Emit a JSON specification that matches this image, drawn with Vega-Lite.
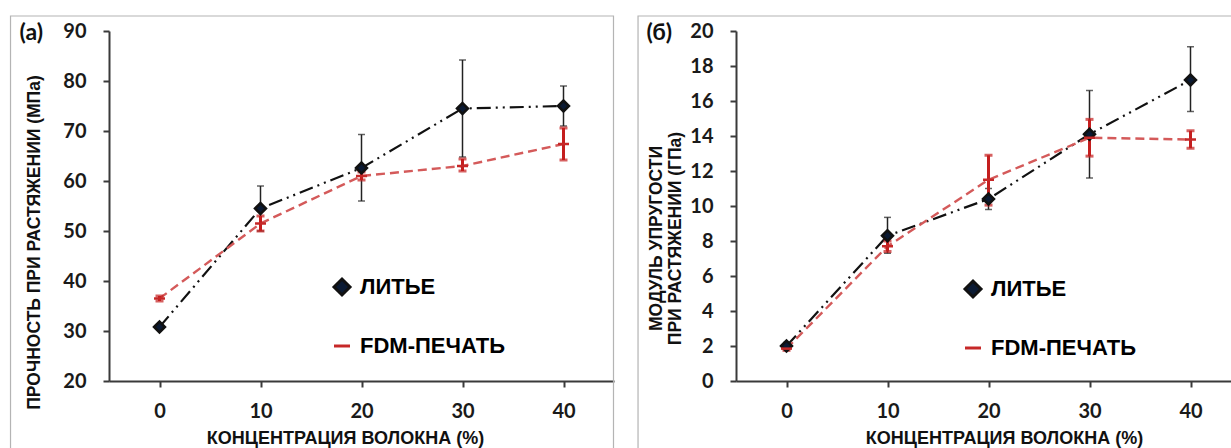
{
  "$schema": "https://vega.github.io/schema/vega-lite/v6.json",
  "padding": {"left": 9, "top": 15, "right": 0, "bottom": 0},
  "background": "white",
  "datasets": {
    "strength": [
      {"series": "ЛИТЬЕ", "conc": 0, "value": 30.8, "lo": 30.4, "hi": 31.2},
      {"series": "ЛИТЬЕ", "conc": 10, "value": 54.5, "lo": 50.0, "hi": 59.0},
      {"series": "ЛИТЬЕ", "conc": 20, "value": 62.6, "lo": 56.0, "hi": 69.3},
      {"series": "ЛИТЬЕ", "conc": 30, "value": 74.5, "lo": 64.8, "hi": 84.2},
      {"series": "ЛИТЬЕ", "conc": 40, "value": 75.0, "lo": 71.0, "hi": 79.0},
      {"series": "FDM-ПЕЧАТЬ", "conc": 0, "value": 36.5, "lo": 36.0, "hi": 37.0},
      {"series": "FDM-ПЕЧАТЬ", "conc": 10, "value": 51.5, "lo": 50.0, "hi": 53.0},
      {"series": "FDM-ПЕЧАТЬ", "conc": 20, "value": 61.0, "lo": 60.2, "hi": 61.8},
      {"series": "FDM-ПЕЧАТЬ", "conc": 30, "value": 63.0, "lo": 62.0, "hi": 64.4},
      {"series": "FDM-ПЕЧАТЬ", "conc": 40, "value": 67.4, "lo": 64.2, "hi": 70.6}
    ],
    "modulus": [
      {"series": "ЛИТЬЕ", "conc": 0, "value": 2.0, "lo": 1.8, "hi": 2.2},
      {"series": "ЛИТЬЕ", "conc": 10, "value": 8.3, "lo": 7.3, "hi": 9.35},
      {"series": "ЛИТЬЕ", "conc": 20, "value": 10.4, "lo": 9.8, "hi": 11.0},
      {"series": "ЛИТЬЕ", "conc": 30, "value": 14.1, "lo": 11.6, "hi": 16.6},
      {"series": "ЛИТЬЕ", "conc": 40, "value": 17.2, "lo": 15.4, "hi": 19.1},
      {"series": "FDM-ПЕЧАТЬ", "conc": 0, "value": 1.85, "lo": 1.75, "hi": 1.95},
      {"series": "FDM-ПЕЧАТЬ", "conc": 10, "value": 7.7, "lo": 7.4, "hi": 8.0},
      {"series": "FDM-ПЕЧАТЬ", "conc": 20, "value": 11.5, "lo": 10.05, "hi": 12.9},
      {"series": "FDM-ПЕЧАТЬ", "conc": 30, "value": 13.9, "lo": 12.85, "hi": 14.95},
      {"series": "FDM-ПЕЧАТЬ", "conc": 40, "value": 13.8, "lo": 13.3, "hi": 14.3}
    ]
  },
  "bounds": "flush",
  "spacing": 122,
  "resolve": {"scale": {"color": "independent", "shape": "independent"}},
  "hconcat": [
    {
      "width": 505,
      "height": 350,
      "data": {"name": "strength"},
      "layer": [
        {
          "data": {"values": [{"frame": "a"}]},
          "mark": {"type": "rect", "filled": false, "stroke": "#b4b4b4", "strokeWidth": 1.2},
          "encoding": {
            "x": {"datum": -14.75, "type": "quantitative",
                  "axis": {"values": [0, 10, 20, 30, 40], "labelOverlap": false, "title": "КОНЦЕНТРАЦИЯ ВОЛОКНА (%)", "titleX": 236, "titleY": 57}},
            "x2": {"datum": 44.95},
            "y": {"datum": 93, "type": "quantitative",
                  "axis": {"values": [20, 30, 40, 50, 60, 70, 80, 90], "labelOverlap": false, "title": "ПРОЧНОСТЬ ПРИ РАСТЯЖЕНИИ (МПа)", "titleX": -74.5, "titleY": 211}},
            "y2": {"datum": 3}
          }
        },
        {
          "data": {"values": [{"label": "(a)"}]},
          "mark": {"type": "text", "font": "Lato", "fontWeight": "bold", "fontSize": 23, "align": "center", "baseline": "middle", "color": "#111"},
          "encoding": {
            "x": {"datum": -12.7, "type": "quantitative",
                  "axis": {"values": [0, 10, 20, 30, 40], "labelOverlap": false, "title": "КОНЦЕНТРАЦИЯ ВОЛОКНА (%)", "titleX": 236, "titleY": 57}},
            "y": {"datum": 89.6, "type": "quantitative",
                  "axis": {"values": [20, 30, 40, 50, 60, 70, 80, 90], "labelOverlap": false, "title": "ПРОЧНОСТЬ ПРИ РАСТЯЖЕНИИ (МПа)", "titleX": -74.5, "titleY": 211}},
            "text": {"field": "label"}
          }
        },
        {
          "transform": [{"filter": "datum.series === 'ЛИТЬЕ'"}],
          "mark": {"type": "line", "color": "#111111", "strokeWidth": 2.2, "strokeDash": [14, 5, 2, 5, 2, 5]},
          "encoding": {
            "x": {"field": "conc", "type": "quantitative", "scale": {"domain": [-5, 45], "nice": false, "zero": false},
                  "axis": {"values": [0, 10, 20, 30, 40], "labelOverlap": false, "title": "КОНЦЕНТРАЦИЯ ВОЛОКНА (%)", "titleX": 236, "titleY": 57}},
            "y": {"field": "value", "type": "quantitative", "scale": {"domain": [20, 90], "nice": false, "zero": false},
                  "axis": {"values": [20, 30, 40, 50, 60, 70, 80, 90], "labelOverlap": false, "title": "ПРОЧНОСТЬ ПРИ РАСТЯЖЕНИИ (МПа)", "titleX": -74.5, "titleY": 211}}
          }
        },
        {
          "transform": [{"filter": "datum.series === 'FDM-ПЕЧАТЬ'"}],
          "mark": {"type": "line", "color": "#d45a5a", "strokeWidth": 2.4, "strokeDash": [9, 5]},
          "encoding": {
            "x": {"field": "conc", "type": "quantitative", "scale": {"domain": [-5, 45], "nice": false, "zero": false},
                  "axis": {"values": [0, 10, 20, 30, 40], "labelOverlap": false, "title": "КОНЦЕНТРАЦИЯ ВОЛОКНА (%)", "titleX": 236, "titleY": 57}},
            "y": {"field": "value", "type": "quantitative", "scale": {"domain": [20, 90], "nice": false, "zero": false},
                  "axis": {"values": [20, 30, 40, 50, 60, 70, 80, 90], "labelOverlap": false, "title": "ПРОЧНОСТЬ ПРИ РАСТЯЖЕНИИ (МПа)", "titleX": -74.5, "titleY": 211}}
          }
        },
        {
          "transform": [{"filter": "datum.series === 'ЛИТЬЕ'"}],
          "mark": {"type": "errorbar", "ticks": {"size": 7}, "thickness": 1.5, "color": "#222222"},
          "encoding": {
            "x": {"field": "conc", "type": "quantitative", "scale": {"domain": [-5, 45], "nice": false, "zero": false},
                  "axis": {"values": [0, 10, 20, 30, 40], "labelOverlap": false, "title": "КОНЦЕНТРАЦИЯ ВОЛОКНА (%)", "titleX": 236, "titleY": 57}},
            "y": {"field": "lo", "type": "quantitative", "scale": {"domain": [20, 90], "nice": false, "zero": false},
                  "axis": {"values": [20, 30, 40, 50, 60, 70, 80, 90], "labelOverlap": false, "title": "ПРОЧНОСТЬ ПРИ РАСТЯЖЕНИИ (МПа)", "titleX": -74.5, "titleY": 211}},
            "y2": {"field": "hi"}
          }
        },
        {
          "transform": [{"filter": "datum.series === 'FDM-ПЕЧАТЬ'"}],
          "mark": {"type": "errorbar", "ticks": {"size": 8}, "thickness": 3, "color": "#c41e1e"},
          "encoding": {
            "x": {"field": "conc", "type": "quantitative", "scale": {"domain": [-5, 45], "nice": false, "zero": false},
                  "axis": {"values": [0, 10, 20, 30, 40], "labelOverlap": false, "title": "КОНЦЕНТРАЦИЯ ВОЛОКНА (%)", "titleX": 236, "titleY": 57}},
            "y": {"field": "lo", "type": "quantitative", "scale": {"domain": [20, 90], "nice": false, "zero": false},
                  "axis": {"values": [20, 30, 40, 50, 60, 70, 80, 90], "labelOverlap": false, "title": "ПРОЧНОСТЬ ПРИ РАСТЯЖЕНИИ (МПа)", "titleX": -74.5, "titleY": 211}},
            "y2": {"field": "hi"}
          }
        },
        {
          "mark": {"type": "point", "filled": false, "fill": "#0b1a33", "strokeWidth": 2.5, "size": 120, "opacity": 1},
          "encoding": {
            "x": {"field": "conc", "type": "quantitative", "scale": {"domain": [-5, 45], "nice": false, "zero": false},
                  "axis": {"values": [0, 10, 20, 30, 40], "labelOverlap": false, "title": "КОНЦЕНТРАЦИЯ ВОЛОКНА (%)", "titleX": 236, "titleY": 57}},
            "y": {"field": "value", "type": "quantitative", "scale": {"domain": [20, 90], "nice": false, "zero": false},
                  "axis": {"values": [20, 30, 40, 50, 60, 70, 80, 90], "labelOverlap": false, "title": "ПРОЧНОСТЬ ПРИ РАСТЯЖЕНИИ (МПа)", "titleX": -74.5, "titleY": 211}},
            "color": {"field": "series", "type": "nominal",
                      "scale": {"domain": ["ЛИТЬЕ", "FDM-ПЕЧАТЬ"], "range": ["#111111", "#c62828"]},
                      "legend": {"title": null, "orient": "none", "direction": "vertical", "legendX": 222, "legendY": 245,
                                 "labelFont": "Liberation Sans", "labelFontWeight": "bold", "labelFontSize": 22, "labelColor": "#000000",
                                 "symbolSize": 256, "symbolStrokeWidth": 3, "symbolFillColor": "#0b1a33", "rowPadding": 34, "labelOffset": 7}},
            "shape": {"field": "series", "type": "nominal",
                      "scale": {"domain": ["ЛИТЬЕ", "FDM-ПЕЧАТЬ"], "range": ["diamond", "stroke"]},
                      "legend": {"title": null, "orient": "none", "direction": "vertical", "legendX": 222, "legendY": 245,
                                 "labelFont": "Liberation Sans", "labelFontWeight": "bold", "labelFontSize": 22, "labelColor": "#000000",
                                 "symbolSize": 256, "symbolStrokeWidth": 3, "symbolFillColor": "#0b1a33", "rowPadding": 34, "labelOffset": 7}}
          }
        }
      ]
    },
    {
      "width": 505,
      "height": 350,
      "data": {"name": "modulus"},
      "layer": [
        {
          "data": {"values": [{"frame": "b"}]},
          "mark": {"type": "rect", "filled": false, "stroke": "#b4b4b4", "strokeWidth": 1.2},
          "encoding": {
            "x": {"datum": -14.7, "type": "quantitative",
                  "axis": {"values": [0, 10, 20, 30, 40], "labelOverlap": false, "title": "КОНЦЕНТРАЦИЯ ВОЛОКНА (%)", "titleX": 268, "titleY": 57}},
            "x2": {"datum": 60},
            "y": {"datum": 20.857, "type": "quantitative",
                  "axis": {"values": [0, 2, 4, 6, 8, 10, 12, 14, 16, 18, 20], "labelOverlap": false, "title": ["МОДУЛЬ УПРУГОСТИ", "ПРИ РАСТЯЖЕНИИ (ГПа)"], "titleX": -80, "titleY": 207, "titleLineHeight": 19}},
            "y2": {"datum": -5}
          }
        },
        {
          "data": {"values": [{"label": "(б)"}]},
          "mark": {"type": "text", "font": "Lato", "fontWeight": "bold", "fontSize": 23, "align": "center", "baseline": "middle", "color": "#111"},
          "encoding": {
            "x": {"datum": -12.6, "type": "quantitative",
                  "axis": {"values": [0, 10, 20, 30, 40], "labelOverlap": false, "title": "КОНЦЕНТРАЦИЯ ВОЛОКНА (%)", "titleX": 268, "titleY": 57}},
            "y": {"datum": 19.9, "type": "quantitative",
                  "axis": {"values": [0, 2, 4, 6, 8, 10, 12, 14, 16, 18, 20], "labelOverlap": false, "title": ["МОДУЛЬ УПРУГОСТИ", "ПРИ РАСТЯЖЕНИИ (ГПа)"], "titleX": -80, "titleY": 207, "titleLineHeight": 19}},
            "text": {"field": "label"}
          }
        },
        {
          "transform": [{"filter": "datum.series === 'ЛИТЬЕ'"}],
          "mark": {"type": "line", "color": "#111111", "strokeWidth": 2.2, "strokeDash": [14, 5, 2, 5, 2, 5]},
          "encoding": {
            "x": {"field": "conc", "type": "quantitative", "scale": {"domain": [-5, 45], "nice": false, "zero": false},
                  "axis": {"values": [0, 10, 20, 30, 40], "labelOverlap": false, "title": "КОНЦЕНТРАЦИЯ ВОЛОКНА (%)", "titleX": 268, "titleY": 57}},
            "y": {"field": "value", "type": "quantitative", "scale": {"domain": [0, 20], "nice": false, "zero": false},
                  "axis": {"values": [0, 2, 4, 6, 8, 10, 12, 14, 16, 18, 20], "labelOverlap": false, "title": ["МОДУЛЬ УПРУГОСТИ", "ПРИ РАСТЯЖЕНИИ (ГПа)"], "titleX": -80, "titleY": 207, "titleLineHeight": 19}}
          }
        },
        {
          "transform": [{"filter": "datum.series === 'FDM-ПЕЧАТЬ'"}],
          "mark": {"type": "line", "color": "#d45a5a", "strokeWidth": 2.4, "strokeDash": [9, 5]},
          "encoding": {
            "x": {"field": "conc", "type": "quantitative", "scale": {"domain": [-5, 45], "nice": false, "zero": false},
                  "axis": {"values": [0, 10, 20, 30, 40], "labelOverlap": false, "title": "КОНЦЕНТРАЦИЯ ВОЛОКНА (%)", "titleX": 268, "titleY": 57}},
            "y": {"field": "value", "type": "quantitative", "scale": {"domain": [0, 20], "nice": false, "zero": false},
                  "axis": {"values": [0, 2, 4, 6, 8, 10, 12, 14, 16, 18, 20], "labelOverlap": false, "title": ["МОДУЛЬ УПРУГОСТИ", "ПРИ РАСТЯЖЕНИИ (ГПа)"], "titleX": -80, "titleY": 207, "titleLineHeight": 19}}
          }
        },
        {
          "transform": [{"filter": "datum.series === 'ЛИТЬЕ'"}],
          "mark": {"type": "errorbar", "ticks": {"size": 7}, "thickness": 1.5, "color": "#222222"},
          "encoding": {
            "x": {"field": "conc", "type": "quantitative", "scale": {"domain": [-5, 45], "nice": false, "zero": false},
                  "axis": {"values": [0, 10, 20, 30, 40], "labelOverlap": false, "title": "КОНЦЕНТРАЦИЯ ВОЛОКНА (%)", "titleX": 268, "titleY": 57}},
            "y": {"field": "lo", "type": "quantitative", "scale": {"domain": [0, 20], "nice": false, "zero": false},
                  "axis": {"values": [0, 2, 4, 6, 8, 10, 12, 14, 16, 18, 20], "labelOverlap": false, "title": ["МОДУЛЬ УПРУГОСТИ", "ПРИ РАСТЯЖЕНИИ (ГПа)"], "titleX": -80, "titleY": 207, "titleLineHeight": 19}},
            "y2": {"field": "hi"}
          }
        },
        {
          "transform": [{"filter": "datum.series === 'FDM-ПЕЧАТЬ'"}],
          "mark": {"type": "errorbar", "ticks": {"size": 8}, "thickness": 3, "color": "#c41e1e"},
          "encoding": {
            "x": {"field": "conc", "type": "quantitative", "scale": {"domain": [-5, 45], "nice": false, "zero": false},
                  "axis": {"values": [0, 10, 20, 30, 40], "labelOverlap": false, "title": "КОНЦЕНТРАЦИЯ ВОЛОКНА (%)", "titleX": 268, "titleY": 57}},
            "y": {"field": "lo", "type": "quantitative", "scale": {"domain": [0, 20], "nice": false, "zero": false},
                  "axis": {"values": [0, 2, 4, 6, 8, 10, 12, 14, 16, 18, 20], "labelOverlap": false, "title": ["МОДУЛЬ УПРУГОСТИ", "ПРИ РАСТЯЖЕНИИ (ГПа)"], "titleX": -80, "titleY": 207, "titleLineHeight": 19}},
            "y2": {"field": "hi"}
          }
        },
        {
          "mark": {"type": "point", "filled": false, "fill": "#0b1a33", "strokeWidth": 2.5, "size": 120, "opacity": 1},
          "encoding": {
            "x": {"field": "conc", "type": "quantitative", "scale": {"domain": [-5, 45], "nice": false, "zero": false},
                  "axis": {"values": [0, 10, 20, 30, 40], "labelOverlap": false, "title": "КОНЦЕНТРАЦИЯ ВОЛОКНА (%)", "titleX": 268, "titleY": 57}},
            "y": {"field": "value", "type": "quantitative", "scale": {"domain": [0, 20], "nice": false, "zero": false},
                  "axis": {"values": [0, 2, 4, 6, 8, 10, 12, 14, 16, 18, 20], "labelOverlap": false, "title": ["МОДУЛЬ УПРУГОСТИ", "ПРИ РАСТЯЖЕНИИ (ГПа)"], "titleX": -80, "titleY": 207, "titleLineHeight": 19}},
            "color": {"field": "series", "type": "nominal",
                      "scale": {"domain": ["ЛИТЬЕ", "FDM-ПЕЧАТЬ"], "range": ["#111111", "#c62828"]},
                      "legend": {"title": null, "orient": "none", "direction": "vertical", "legendX": 226, "legendY": 247,
                                 "labelFont": "Liberation Sans", "labelFontWeight": "bold", "labelFontSize": 22, "labelColor": "#000000",
                                 "symbolSize": 256, "symbolStrokeWidth": 3, "symbolFillColor": "#0b1a33", "rowPadding": 34, "labelOffset": 7}},
            "shape": {"field": "series", "type": "nominal",
                      "scale": {"domain": ["ЛИТЬЕ", "FDM-ПЕЧАТЬ"], "range": ["diamond", "stroke"]},
                      "legend": {"title": null, "orient": "none", "direction": "vertical", "legendX": 226, "legendY": 247,
                                 "labelFont": "Liberation Sans", "labelFontWeight": "bold", "labelFontSize": 22, "labelColor": "#000000",
                                 "symbolSize": 256, "symbolStrokeWidth": 3, "symbolFillColor": "#0b1a33", "rowPadding": 34, "labelOffset": 7}}
          }
        }
      ]
    }
  ],
  "config": {
    "view": {"stroke": null},
    "axis": {
      "grid": false,
      "domainColor": "#3a3a3a",
      "domainWidth": 2,
      "tickColor": "#3a3a3a",
      "tickWidth": 2,
      "tickSize": 6,
      "labelFont": "Lato",
      "labelFontWeight": "bold",
      "labelFontSize": 20,
      "labelColor": "#1a1a1a",
      "labelFlush": false,
      "labelOverlap": false,
      "titleFont": "Liberation Sans",
      "titleFontWeight": "bold",
      "titleFontSize": 17.5,
      "titleColor": "#111111",
      "titleBaseline": "middle",
      "titleAlign": "center"
    },
    "axisX": {"labelPadding": 14, "titleFontSize": 18},
    "axisY": {"labelPadding": 17}
  }
}
